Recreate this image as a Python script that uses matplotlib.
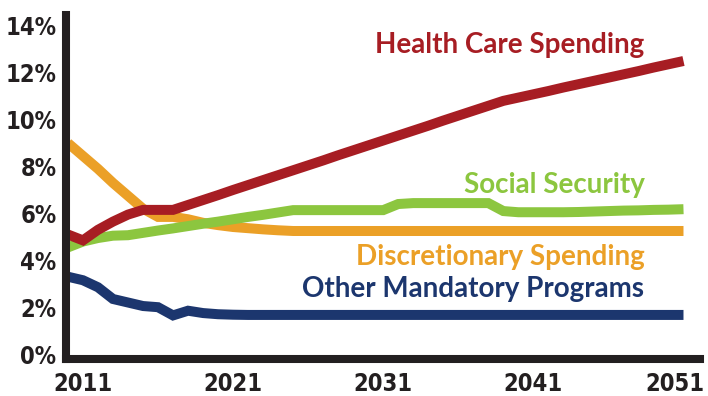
import numpy as np
import matplotlib
matplotlib.use("Agg")
import matplotlib.pyplot as plt
import matplotlib.ticker as mticker
from matplotlib.transforms import ScaledTranslation

years = list(range(2010, 2052))

health_care = [5.1, 4.85, 5.3, 5.65, 5.95, 6.15, 6.15, 6.15, 6.36, 6.57,
               6.78, 7.0, 7.21, 7.42, 7.63, 7.84, 8.05, 8.26, 8.48, 8.69,
               8.9, 9.11, 9.32, 9.53, 9.74, 9.96, 10.17, 10.38, 10.59, 10.8,
               10.94, 11.08, 11.22, 11.37, 11.51, 11.65, 11.79, 11.93, 12.07, 12.22,
               12.36, 12.5]
social_security = [4.55, 4.8, 4.95, 5.05, 5.07, 5.17, 5.27, 5.36, 5.46, 5.56,
                   5.65, 5.75, 5.85, 5.94, 6.04, 6.14, 6.14, 6.14, 6.14, 6.14,
                   6.14, 6.14, 6.4, 6.44, 6.44, 6.44, 6.44, 6.44, 6.44, 6.1,
                   6.05, 6.05, 6.05, 6.05, 6.06, 6.08, 6.1, 6.12, 6.13, 6.15,
                   6.16, 6.18]
discretionary = [9.0, 8.45, 7.9, 7.3, 6.75, 6.2, 5.85, 5.85, 5.75, 5.6,
                 5.5, 5.42, 5.37, 5.32, 5.28, 5.25, 5.25, 5.25, 5.25, 5.25,
                 5.25, 5.25, 5.25, 5.25, 5.25, 5.25, 5.25, 5.25, 5.25, 5.25,
                 5.25, 5.25, 5.25, 5.25, 5.25, 5.25, 5.25, 5.25, 5.25, 5.25,
                 5.25, 5.25]
other_mandatory = [3.3, 3.15, 2.85, 2.35, 2.2, 2.05, 2.0, 1.65, 1.85, 1.75,
                   1.7, 1.68, 1.67, 1.67, 1.67, 1.67, 1.67, 1.67, 1.67, 1.67,
                   1.67, 1.67, 1.67, 1.67, 1.67, 1.67, 1.67, 1.67, 1.67, 1.67,
                   1.67, 1.67, 1.67, 1.67, 1.67, 1.67, 1.67, 1.67, 1.67, 1.67,
                   1.67, 1.67]

x_ticks = [2011, 2021, 2031, 2041, 2051]
y_ticks = [0, 2, 4, 6, 8, 10, 12, 14]

series = [
    (other_mandatory, '#1c366e', 'Other Mandatory Programs', 2.43),
    (discretionary, '#eba027', 'Discretionary Spending', 3.8),
    (social_security, '#8cc63f', 'Social Security', 6.87),
    (health_care, '#a71d23', 'Health Care Spending', 12.83),
]

fig = plt.figure(figsize=(7.08, 3.96), dpi=100)
ax = fig.add_axes([0.0932, 0.0934, 0.8955, 0.8686])

for vals, color, label, ty in series:
    ax.plot(years, vals, color=color, linewidth=7.2, solid_capstyle='butt',
            solid_joinstyle='miter')
    ax.text(2048.4, ty, label, color=color, ha='right', va='baseline',
            fontsize=20, fontweight='bold', family=['Lato', 'DejaVu Sans'])

ax.set_xlim(2009.87, 2052.1)
ax.set_ylim(-0.21, 14.46)
ax.set_xticks(x_ticks)
ax.set_yticks(y_ticks)
ax.yaxis.set_major_formatter(mticker.FuncFormatter(lambda v, p: f'{int(v)}%'))

for s in ['top', 'right']:
    ax.spines[s].set_visible(False)
for s in ['left', 'bottom']:
    ax.spines[s].set_linewidth(5.8)
    ax.spines[s].set_color('#231f20')
    ax.spines[s].set_capstyle('projecting')

ax.tick_params(axis='y', length=0, pad=7)
ax.tick_params(axis='x', length=0, pad=9)
for lab in ax.get_yticklabels() + ax.get_xticklabels():
    lab.set_fontsize(17)
    lab.set_fontweight('heavy')
    lab.set_family('DejaVu Sans')
    lab.set_fontstretch('condensed')
    lab.set_color('#231f20')

# nudge the last year label inward so it stays on the canvas
last = ax.get_xticklabels()[-1]
last.set_transform(last.get_transform() + ScaledTranslation(-9 / 100, 0, fig.dpi_scale_trans))

fig.savefig('out.png', dpi=100)
